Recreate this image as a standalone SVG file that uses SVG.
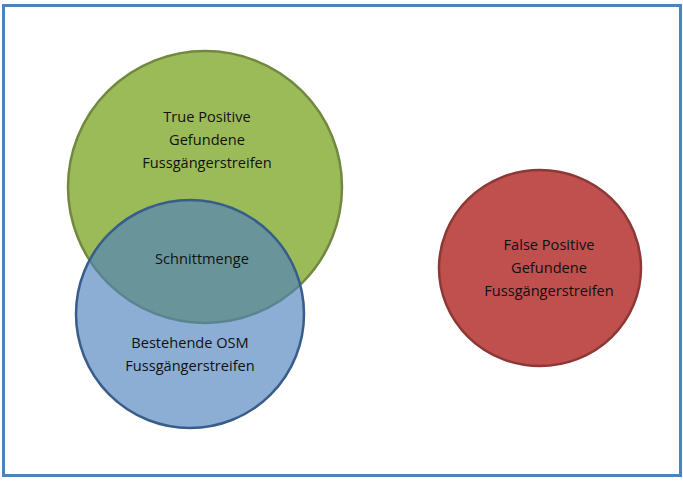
<svg xmlns="http://www.w3.org/2000/svg" width="683" height="482" viewBox="0 0 683 482">
  <style>
    .lbl { font-family: "Open Sans", "Liberation Sans", sans-serif; font-size: 14.6px; fill: #111; text-anchor: middle; }
  </style>
  <rect width="683" height="482" fill="#fff"/>
  <rect id="frame" x="3.5" y="5.5" width="677" height="470" fill="none" stroke="#4F81BD" stroke-width="3"/>
  <g id="true-positive">
    <ellipse cx="205" cy="187" rx="137" ry="136" fill="#9BBB59" stroke="#71893F" stroke-width="2.5"/>
  </g>
  <g id="osm">
    <ellipse cx="190" cy="314" rx="114" ry="114" fill="#4F81BD" fill-opacity="0.65" stroke="#385D8A" stroke-width="2.5"/>
  </g>
  <g id="false-positive">
    <ellipse cx="540" cy="268" rx="101" ry="98" fill="#C0504D" stroke="#8C3836" stroke-width="2.5"/>
  </g>
  <g id="labels">
    <text class="lbl" x="207" y="122">True Positive</text>
    <text class="lbl" x="207" y="145">Gefundene</text>
    <text class="lbl" x="207" y="168">Fussgängerstreifen</text>
    <text class="lbl" x="202" y="264">Schnittmenge</text>
    <text class="lbl" x="190" y="348">Bestehende OSM</text>
    <text class="lbl" x="190" y="371">Fussgängerstreifen</text>
    <text class="lbl" x="549" y="250">False Positive</text>
    <text class="lbl" x="549" y="273">Gefundene</text>
    <text class="lbl" x="549" y="296">Fussgängerstreifen</text>
  </g>
  <g id="connectors"/>
</svg>
